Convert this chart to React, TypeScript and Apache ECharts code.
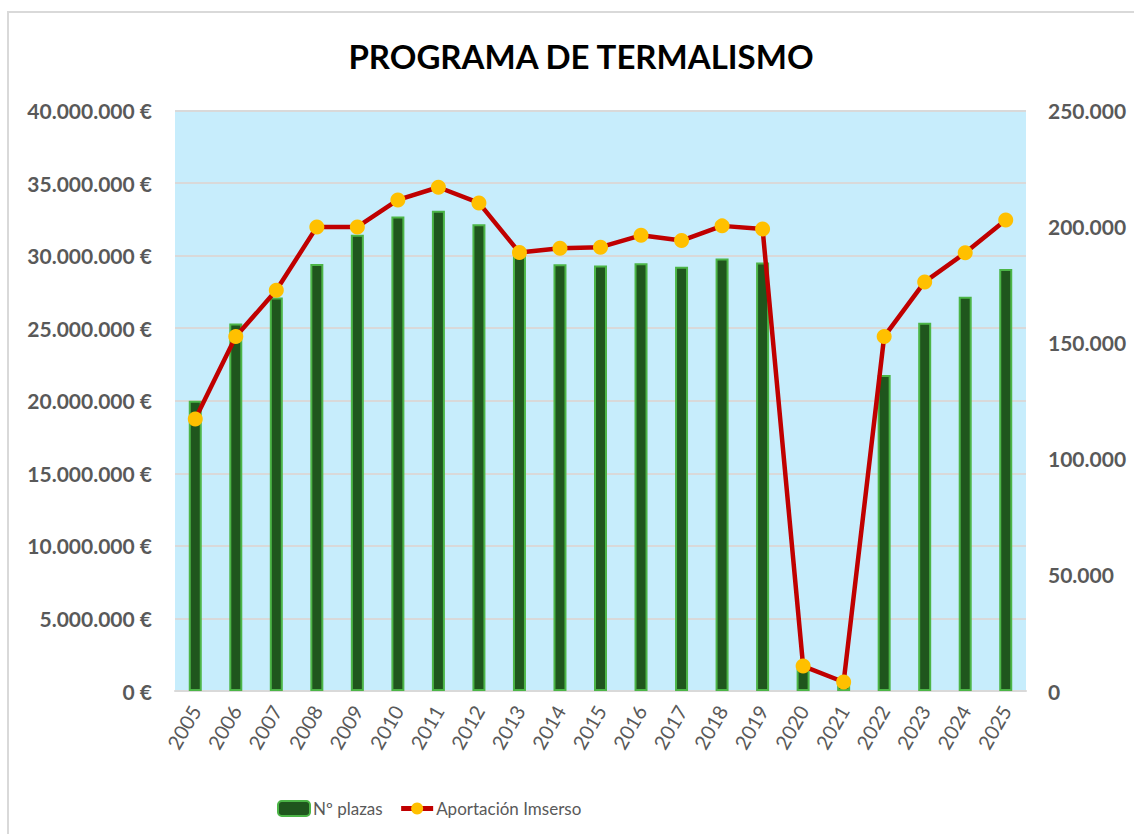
import React, { useEffect, useRef } from "react";
import * as echarts from "echarts";

const years = ["2005","2006","2007","2008","2009","2010","2011","2012","2013","2014","2015","2016","2017","2018","2019","2020","2021","2022","2023","2024","2025"];
const plazas = [125000, 158300, 169500, 183900, 196500, 204300, 206800, 201000, 187300, 183800, 183200, 184200, 182700, 186300, 184500, 9500, 3500, 136100, 158600, 169800, 181700];
const aportacion = [18750000, 24420000, 27610000, 31980000, 31980000, 33840000, 34710000, 33630000, 30210000, 30510000, 30580000, 31400000, 31040000, 32050000, 31840000, 1720000, 620000, 24420000, 28190000, 30190000, 32460000];

const FONT = "Lato, 'Open Sans', sans-serif";
const dots = (v: number) => String(Math.round(v)).replace(/\B(?=(\d{3})+(?!\d))/g, ".");

export default function App() {
  const ref = useRef<HTMLDivElement>(null);
  useEffect(() => {
    document.body.style.margin = "0";
    document.body.style.overflow = "hidden";
    const chart = echarts.init(ref.current!, null, { renderer: "svg" });
    chart.setOption({
      animation: false,
      backgroundColor: "#ffffff",
      graphic: [
        { type: "rect", shape: { x: 8, y: 12, width: 1300, height: 1000 }, style: { fill: "none", stroke: "#d9d9d9", lineWidth: 2 }, z: -10 },
      ],
      title: {
        text: "PROGRAMA DE TERMALISMO",
        left: 576,
        textAlign: "center",
        top: 34,
        textStyle: { fontFamily: FONT, fontWeight: "bold", fontSize: 33, color: "#000000" },
      },
      legend: {
        left: 272,
        top: 795,
        itemWidth: 32,
        itemHeight: 15,
        itemGap: 16,
        textStyle: { fontFamily: FONT, fontSize: 17, color: "#595959", padding: [0, 0, 0, -2] },
        data: [
          { name: "Nº plazas" },
          { name: "Aportación Imserso", lineStyle: { width: 5 } },
        ],
      },
      grid: {
        left: 175,
        right: 108,
        top: 110.5,
        bottom: 143,
        show: true,
        backgroundColor: "#c7edfc",
        borderWidth: 0,
      },
      xAxis: {
        type: "category",
        data: years,
        axisTick: { show: false },
        axisLine: { lineStyle: { color: "#d9d9d9", width: 2 } },
        axisLabel: { rotate: 60, fontFamily: FONT, fontSize: 20, color: "#595959", margin: 16 },
      },
      yAxis: [
        {
          type: "value",
          min: 0,
          max: 40000000,
          interval: 5000000,
          axisLine: { show: false },
          axisTick: { show: false },
          splitLine: { lineStyle: { color: "#d9d9d9", width: 2 } },
          axisLabel: { fontFamily: FONT, fontWeight: "bold", fontSize: 21, color: "#595959", margin: 23, formatter: (v: number) => dots(v) + " €" },
        },
        {
          type: "value",
          min: 0,
          max: 250000,
          interval: 50000,
          axisLine: { show: false },
          axisTick: { show: false },
          splitLine: { show: false },
          axisLabel: { fontFamily: FONT, fontWeight: "bold", fontSize: 21, color: "#595959", margin: 22, formatter: (v: number) => dots(v) },
        },
      ],
      series: [
        {
          name: "Nº plazas",
          type: "bar",
          yAxisIndex: 1,
          data: plazas,
          barWidth: 13,
          itemStyle: { color: "#1f561d", borderColor: "#4cb547", borderWidth: 2 },
        },
        {
          name: "Aportación Imserso",
          type: "line",
          yAxisIndex: 0,
          data: aportacion,
          symbol: "circle",
          symbolSize: 15,
          lineStyle: { color: "#c00000", width: 4.5 },
          itemStyle: { color: "#ffc000", borderWidth: 0 },
          z: 5,
        },
      ],
    });
    return () => chart.dispose();
  }, []);
  return <div ref={ref} style={{ width: 1134, height: 834 }} />;
}
